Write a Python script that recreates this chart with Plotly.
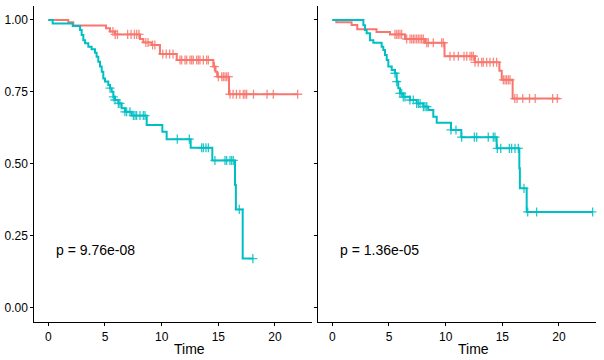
import numpy as np
import plotly.graph_objects as go

RED = "#F8766D"
CYAN = "#00BFC4"

# ---- Left panel data ----
left_red_time = [0, 1.76, 2.2, 5.09, 5.44, 5.88, 8.09, 8.38, 9.12, 9.85, 11.33, 14.56, 14.75, 14.9, 15.94]
left_red_surv = [1.0, 0.992, 0.981, 0.971, 0.960, 0.950, 0.934, 0.922, 0.913, 0.882, 0.861, 0.838, 0.820, 0.803, 0.742]
left_red_end = 22.0
left_red_cens = [5.7, 5.9, 6.1, 7.0, 7.3, 7.6, 7.8, 8.0, 8.6, 8.8, 9.2, 9.4, 10.1, 10.4, 10.7, 11.0,
                 11.62, 11.77, 12.06, 12.21, 12.5, 12.65, 12.79, 13.09, 13.24, 13.38, 13.68, 13.97, 14.12,
                 14.65, 15.0, 15.3, 15.44, 15.59, 15.74, 15.88, 16.03, 16.3, 16.6, 16.9, 17.2, 17.35,
                 17.5, 18.1, 19.3, 19.85, 22.0]

left_cyan_time = [0, 0.38, 2.15, 2.8, 2.94, 3.09, 3.24, 3.53, 3.82, 4.12, 4.26, 4.41, 4.56, 4.71, 4.85,
                  5.0, 5.29, 5.44, 5.59, 5.74, 5.88, 6.18, 6.47, 6.76, 7.35, 8.68, 10.06, 10.44, 12.56,
                  14.47, 16.47, 16.55, 17.15]
left_cyan_surv = [1.0, 0.988, 0.979, 0.965, 0.948, 0.930, 0.919, 0.907, 0.898, 0.886, 0.872, 0.855, 0.838,
                  0.820, 0.797, 0.786, 0.774, 0.763, 0.751, 0.733, 0.722, 0.710, 0.693, 0.681, 0.668, 0.635,
                  0.612, 0.586, 0.556, 0.512, 0.427, 0.342, 0.171]
left_cyan_end = 18.1
left_cyan_cens = [5.44, 5.74, 5.88, 6.18, 6.32, 6.76, 6.91, 7.2, 7.5, 7.65, 7.79, 8.09, 8.38, 8.53,
                  11.38, 12.44, 13.53, 13.68, 13.91, 14.12, 14.7, 15.59, 15.74, 16.03, 16.18, 16.32,
                  16.85, 18.05]

# ---- Right panel data ----
right_red_time = [0, 0.35, 1.7, 2.2, 3.9, 5.09, 6.41, 8.18, 9.9, 12.59, 14.74, 14.95, 15.91]
right_red_surv = [1.0, 0.992, 0.983, 0.968, 0.958, 0.950, 0.934, 0.921, 0.874, 0.853, 0.824, 0.792, 0.727]
right_red_end = 20.05
right_red_cens = [5.53, 5.68, 5.82, 5.97, 6.12, 6.56, 6.85, 7.0, 7.15, 7.29, 7.44, 7.59, 7.74, 7.88, 8.03,
                  8.33, 8.47, 8.91, 9.65, 9.79, 10.38, 10.74, 11.12, 11.62, 11.86, 12.15, 12.3, 12.44,
                  12.59, 12.88, 13.18, 13.32, 13.62, 13.91, 14.21, 14.5, 15.09, 15.24, 15.38, 15.53,
                  15.68, 16.1, 16.3, 16.8, 17.4, 17.9, 19.44, 19.85]

right_cyan_time = [0, 2.74, 2.88, 3.03, 3.32, 3.62, 4.35, 4.5, 4.65, 4.8, 4.94, 5.24, 5.53, 5.68, 5.82,
                   5.97, 6.26, 6.85, 7.44, 8.03, 8.47, 8.91, 9.21, 10.47, 11.38, 14.5, 16.5, 16.55, 17.15]
right_cyan_surv = [1.0, 0.982, 0.965, 0.954, 0.930, 0.921, 0.907, 0.896, 0.878, 0.861, 0.838, 0.826, 0.815,
                   0.786, 0.763, 0.745, 0.733, 0.722, 0.710, 0.699, 0.687, 0.664, 0.643, 0.618, 0.593,
                   0.554, 0.485, 0.415, 0.333]
right_cyan_end = 23.0
right_cyan_cens = [5.53, 5.68, 5.97, 6.12, 6.26, 6.41, 6.85, 7.15, 7.44, 7.59, 7.74, 8.03, 8.18, 8.33,
                   10.47, 10.91, 11.41, 12.53, 12.74, 13.76, 14.2, 14.35, 14.56, 14.86, 15.62, 15.82,
                   16.12, 16.41, 16.91, 17.24, 18.03, 22.97]

p_values = ["p = 9.76e-08", "p = 1.36e-05"]
x_ticks = [0, 5, 10, 15, 20]
y_ticks = [0.0, 0.25, 0.5, 0.75, 1.0]
y_tick_labels = ["0.00", "0.25", "0.50", "0.75", "1.00"]

W, H = 604, 360
fig = go.Figure()


def add_curve(times, surv, end, cens, color, xa, ya):
    xs = list(times) + [end]
    ys = list(surv) + [surv[-1]]
    fig.add_trace(go.Scatter(x=xs, y=ys, mode="lines", line=dict(color=color, width=2, shape="hv"),
                             xaxis=xa, yaxis=ya, showlegend=False, hoverinfo="skip"))
    t = np.array(times)
    s = np.array(surv)
    idx = np.searchsorted(t, np.array(cens), side="right") - 1
    fig.add_trace(go.Scatter(x=cens, y=s[idx], mode="markers",
                             marker=dict(symbol="cross-thin", size=6.5, color=color,
                                         line=dict(color=color, width=1.3)),
                             opacity=0.85,
                             xaxis=xa, yaxis=ya, showlegend=False, hoverinfo="skip"))


add_curve(left_red_time, left_red_surv, left_red_end, left_red_cens, RED, "x", "y")
add_curve(left_cyan_time, left_cyan_surv, left_cyan_end, left_cyan_cens, CYAN, "x", "y")
add_curve(right_red_time, right_red_surv, right_red_end, right_red_cens, RED, "x2", "y2")
add_curve(right_cyan_time, right_cyan_surv, right_cyan_end, right_cyan_cens, CYAN, "x2", "y2")

xr = [-1.24, 23.3]
yr = [-0.05, 1.05]
scale = 11.333
lw = (xr[1] - xr[0]) * scale
l0 = 48.33 + xr[0] * scale
r0 = 332.33 + xr[0] * scale
ybot = 1 - 322.2 / H
ytop = 1 - 5.6 / H

font = dict(family="Liberation Sans, Arial, sans-serif", size=12, color="black")
axis_common = dict(range=xr, showgrid=False, zeroline=False, showline=True, linecolor="black",
                   linewidth=1, ticks="outside", ticklen=3, tickwidth=1, tickcolor="black",
                   tickvals=x_ticks, tickfont=font)
yaxis_common = dict(range=yr, showgrid=False, zeroline=False, showline=True, linecolor="black",
                    linewidth=1, ticks="outside", ticklen=3, tickwidth=1, tickcolor="black",
                    tickvals=y_ticks, ticktext=y_tick_labels, tickfont=font)

fig.update_layout(
    width=W, height=H,
    margin=dict(l=0, r=0, t=0, b=0),
    paper_bgcolor="white", plot_bgcolor="white",
    xaxis=dict(domain=[l0 / W, (l0 + lw) / W], anchor="y", **axis_common),
    yaxis=dict(domain=[ybot, ytop], anchor="x", **yaxis_common),
    xaxis2=dict(domain=[r0 / W, (r0 + lw) / W], anchor="y2", **axis_common),
    yaxis2=dict(domain=[ybot, ytop], anchor="x2", showticklabels=False, **yaxis_common),
)

# p-value annotations
for xref, yref, txt in [("x", "y", p_values[0]), ("x2", "y2", p_values[1])]:
    fig.add_annotation(x=0.5, y=0.2, xref=xref, yref=yref, text=txt, showarrow=False,
                       xanchor="left", yanchor="middle",
                       font=dict(family="Liberation Sans, Arial, sans-serif", size=14, color="black"))

# axis titles
for xc in [189.7, 473.7]:
    fig.add_annotation(x=xc / W, y=1 - 349 / H, xref="paper", yref="paper", text="Time",
                       showarrow=False, xanchor="center", yanchor="middle",
                       font=dict(family="Liberation Sans, Arial, sans-serif", size=14, color="black"))

fig.write_html("out.html", config={"displayModeBar": False},
               post_script="document.body.style.margin='0';document.body.style.overflow='hidden';")
